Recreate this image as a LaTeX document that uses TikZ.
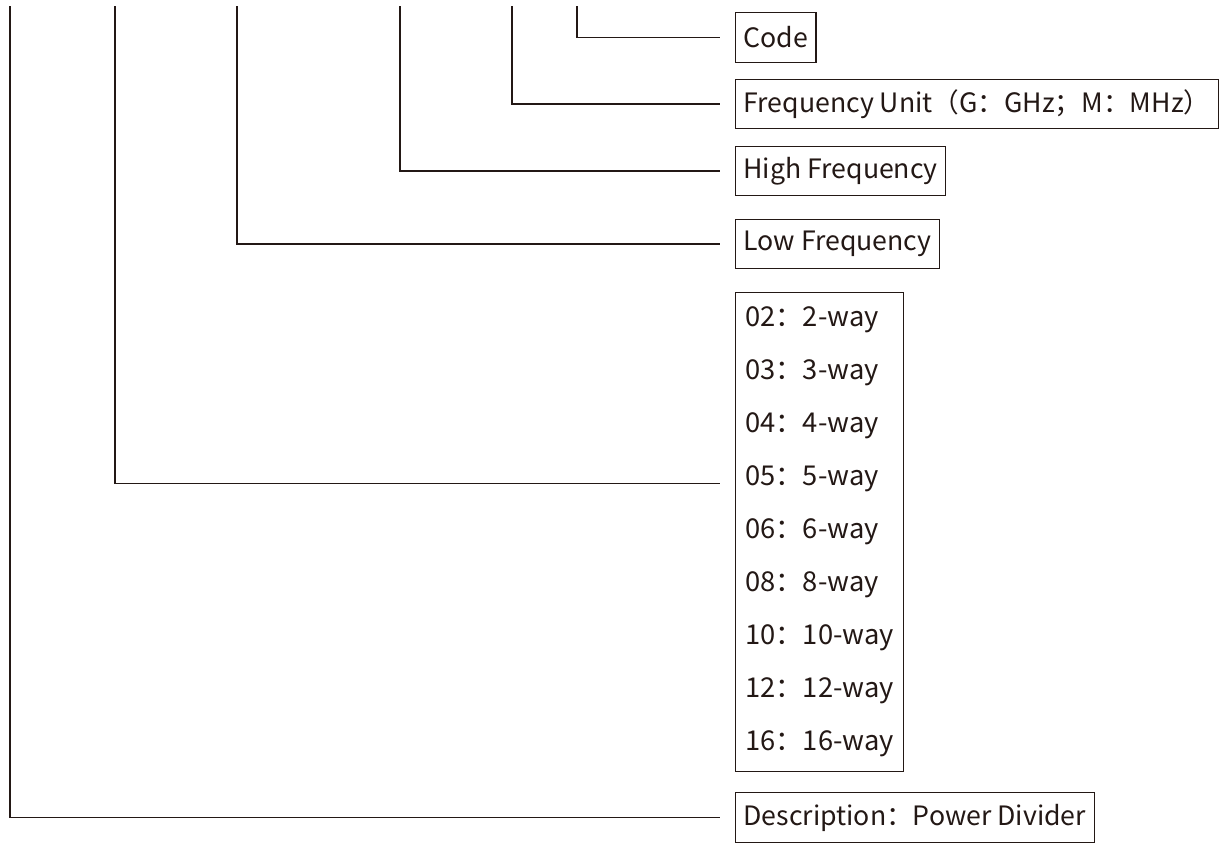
\documentclass[tikz,border=0pt]{standalone}
\usepackage{fontspec}
\setmainfont{Noto Sans CJK SC}
\usepackage{tikz}
\usetikzlibrary{positioning}
\definecolor{ink}{HTML}{231815}

\begin{document}
\begin{tikzpicture}[
    x=0.75pt,y=-0.75pt,
    field/.style={draw=ink,line width=0.8pt,anchor=west,inner xsep=6pt,
      minimum height=37pt,text=ink,font=\fontsize{20}{24}\selectfont},
    lead/.style={draw=ink,line width=0.9pt,shorten >=11pt}]
  \useasboundingbox (0,0) rectangle (1220,844);
  % tops of the leads
  \coordinate (tdesc) at (10,6);
  \coordinate (tways) at (115,6);
  \coordinate (tlow) at (237,6);
  \coordinate (thigh) at (400,6);
  \coordinate (tunit) at (512,6);
  \coordinate (tcode) at (577,6);
  % fields
  \node[field] (code) at (735,37.5) {Code};
  \node[field] (unit) at (735,104) {Frequency Unit（G：GHz；M：MHz）};
  \node[field] (high) at (735,171) {High Frequency};
  \node[field] (low) at (735,244) {Low Frequency};
  \node[field,anchor=north west,align=left,minimum height=359pt,
    minimum width=126pt,font=\fontsize{20.5}{39.7}\selectfont] (ways) at (735,292)
    {02：2-way\\03：3-way\\04：4-way\\05：5-way\\06：6-way\\08：8-way\\
     10：10-way\\12：12-way\\16：16-way};
  \node[field] (desc) at (735,817.5) {Description：Power Divider};
  % leads
  \draw[lead] (tcode) |- (code);
  \draw[lead] (tunit) |- (unit);
  \draw[lead] (thigh) |- (high);
  \draw[lead] (tlow) |- (low);
  \draw[lead] (tways) |- ([yshift=36pt]ways.west);
  \draw[lead] (tdesc) |- (desc);
\end{tikzpicture}
\end{document}
